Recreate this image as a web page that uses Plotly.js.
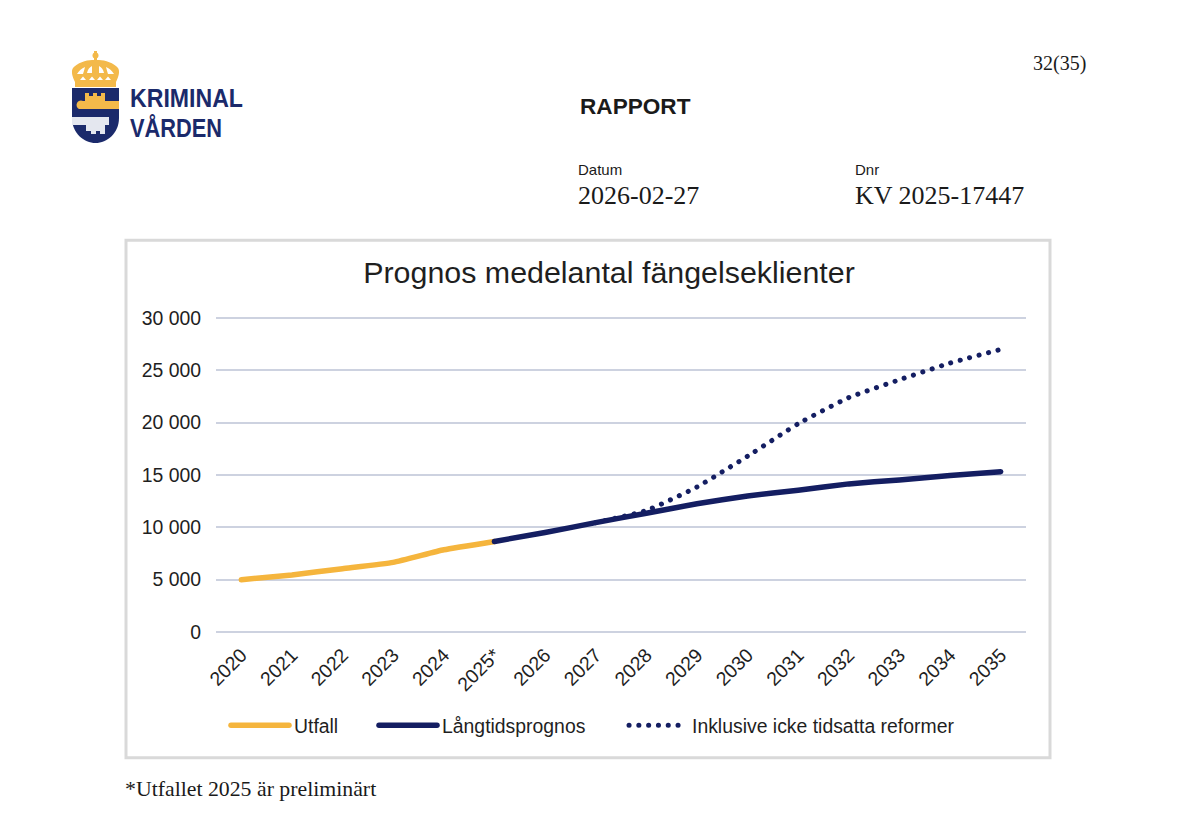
<!DOCTYPE html>
<html lang="sv"><head><meta charset="utf-8">
<script src="https://cdn.plot.ly/plotly-3.0.1.min.js"></script>
<style>
html,body{margin:0;padding:0;background:#fff;width:1200px;height:818px;overflow:hidden}
#chart{position:absolute;left:0;top:0;width:1200px;height:818px}
#logo{position:absolute;left:0;top:0;pointer-events:none}
.js-line{stroke-linecap:round}
</style></head><body>
<div id="chart"></div>
<svg id="logo" width="300" height="170" viewBox="0 0 300 170">
  <path d="M72,88 H119 V118 C119,133 107,143 95.5,143 C84,143 72,133 72,118 Z" fill="#1B2A6B"/>
  <path d="M75,87 V82 C72,76 71,71 73,68 C77,63 86,60 92,60 H99 C105,60 114,63 118,68 C120,71 119,76 116,82 V87 Z" fill="#F3B94A"/>
  <circle cx="95.5" cy="55.5" r="3" fill="#F3B94A"/><rect x="94" y="51" width="3" height="10" fill="#F3B94A"/>
  <path d="M80,80 l3,-3.5 l3,3.5z M89,80 l3,-3.5 l3,3.5z M97,80 l3,-3.5 l3,3.5z M105,80 l3,-3.5 l3,3.5z" fill="#fff"/>
  <path d="M77,74 q3,-5 8,-7 q-1,4 -2,7z M87,73 q1,-5 5,-7 l0,7z M99,73 l0,-7 q4,2 5,7z M108,74 q-1,-3 -2,-7 q5,2 8,7z" fill="#fff"/>
  <path d="M79,109 a4,4 0 0 1 4,-8 H85 V93 H89 V96 H93 V93 H97 V96 H101 V93 H105 V101 H119 V109 Z" fill="#F3B94A"/>
  <path d="M72,117 H109 V125 H105 V134 H100 V131 H96 V134 H91 V131 H86 V125 H72 Z" fill="#E4E7EF"/>
  <text x="130" y="107" font-family="Liberation Sans" font-weight="700" font-size="25.5" fill="#1B2A6B" textLength="113" lengthAdjust="spacingAndGlyphs">KRIMINAL</text>
  <text x="130" y="137" font-family="Liberation Sans" font-weight="700" font-size="25.5" fill="#1B2A6B" textLength="92" lengthAdjust="spacingAndGlyphs">VÅRDEN</text>
</svg>
<script>
const categories = ["2020","2021","2022","2023","2024","2025*","2026","2027","2028","2029","2030","2031","2032","2033","2034","2035"];
const utfall = [5000,5450,6050,6650,7850,8650,null,null,null,null,null,null,null,null,null,null];
const langtidsprognos = [null,null,null,null,null,8650,9500,10450,11350,12250,13000,13550,14150,14530,14950,15320];
const reformer = [null,null,null,null,null,null,null,10450,11600,13850,16800,19900,22400,24100,25700,27000];
const yTicks = [0,5000,10000,15000,20000,25000,30000];
const yTickLabels = ["0","5 000","10 000","15 000","20 000","25 000","30 000"];

const yMin=-100, yMax=30100;
const L=216,R=1026;
const pxPerUnit=313/30000;
const T=318.5-(yMax-30000)*pxPerUnit, B=631.5+(0-yMin)*pxPerUnit;
const px=x=>(x-L)/(R-L), py=y=>(B-y)/(B-T);
const note=(text,x,y,size,family,anchor)=>({text,x:px(x),y:py(y),xref:'paper',yref:'paper',xanchor:anchor||'left',yanchor:'middle',showarrow:false,font:{size,family,color:'#1a1a1a'}});
const SANS='Liberation Sans', SERIF='Liberation Serif';
const legendAt=x=>({orientation:'h',x:px(x),xanchor:'left',y:py(725),yanchor:'middle',itemwidth:58,font:{size:19.4,family:SANS,color:'#1f1f1f'},bgcolor:'rgba(0,0,0,0)',itemclick:false,itemdoubleclick:false});

const traces=[
 {name:'Utfall',legend:'legend',x:categories,y:utfall,mode:'lines',line:{color:'#F5B53D',width:5.5,shape:'spline',smoothing:0.4}},
 {name:'Långtidsprognos',legend:'legend2',x:categories,y:langtidsprognos,mode:'lines',line:{color:'#141E62',width:5.5,shape:'spline',smoothing:0.4}},
 {name:'Inklusive icke tidsatta reformer',legend:'legend3',x:categories,y:reformer,mode:'lines',line:{color:'#141E62',width:5,dash:'0.1px,9.7px',shape:'spline',smoothing:0.4}}
];
const layout={
 width:1200,height:818,paper_bgcolor:'#fff',plot_bgcolor:'#fff',showlegend:true,
 margin:{l:L,r:1200-R,t:T,b:818-B,pad:0},
 font:{family:SANS,color:'#1a1a1a'},
 title:{text:'Prognos medelantal fängelseklienter',x:609/1200,xanchor:'center',y:1-272/818,yanchor:'middle',font:{size:30.4,family:SANS,color:'#1f1f1f'}},
 xaxis:{type:'category',categoryorder:'array',categoryarray:categories,range:[-0.5,15.5],tickangle:-45,ticklabelstandoff:6,tickfont:{size:19.4,family:SANS,color:'#1f1f1f'},showgrid:false,zeroline:false,showline:false,ticks:'',ticklen:0,fixedrange:true},
 yaxis:{range:[yMin,yMax],tickvals:yTicks,ticktext:yTickLabels,ticklabelstandoff:14,tickfont:{size:19.4,family:SANS,color:'#1f1f1f'},gridcolor:'#CDD2E0',gridwidth:2,zeroline:false,showline:false,ticks:'',ticklen:0,fixedrange:true},
 legend:legendAt(226),legend2:legendAt(374),legend3:legendAt(624),
 shapes:[{type:'rect',xref:'paper',yref:'paper',x0:px(126),x1:px(1050),y0:py(241),y1:py(757),line:{color:'#D9D9D9',width:3},fillcolor:'rgba(0,0,0,0)',layer:'below'}],
 annotations:[
  note('32(35)',1088,65,20,SERIF,'right'),
  note('<b>RAPPORT</b>',578,108,22.6,SANS),
  note('Datum',576,170,15,SANS),
  note('Dnr',853,170,15,SANS),
  note('2026-02-27',576,196.5,26,SERIF),
  note('KV 2025-17447',853,196.5,26,SERIF),
  note('*Utfallet 2025 är preliminärt',123,788,21.8,SERIF)
 ]
};
Plotly.newPlot('chart',traces,layout,{displayModeBar:false});
</script></body></html>
